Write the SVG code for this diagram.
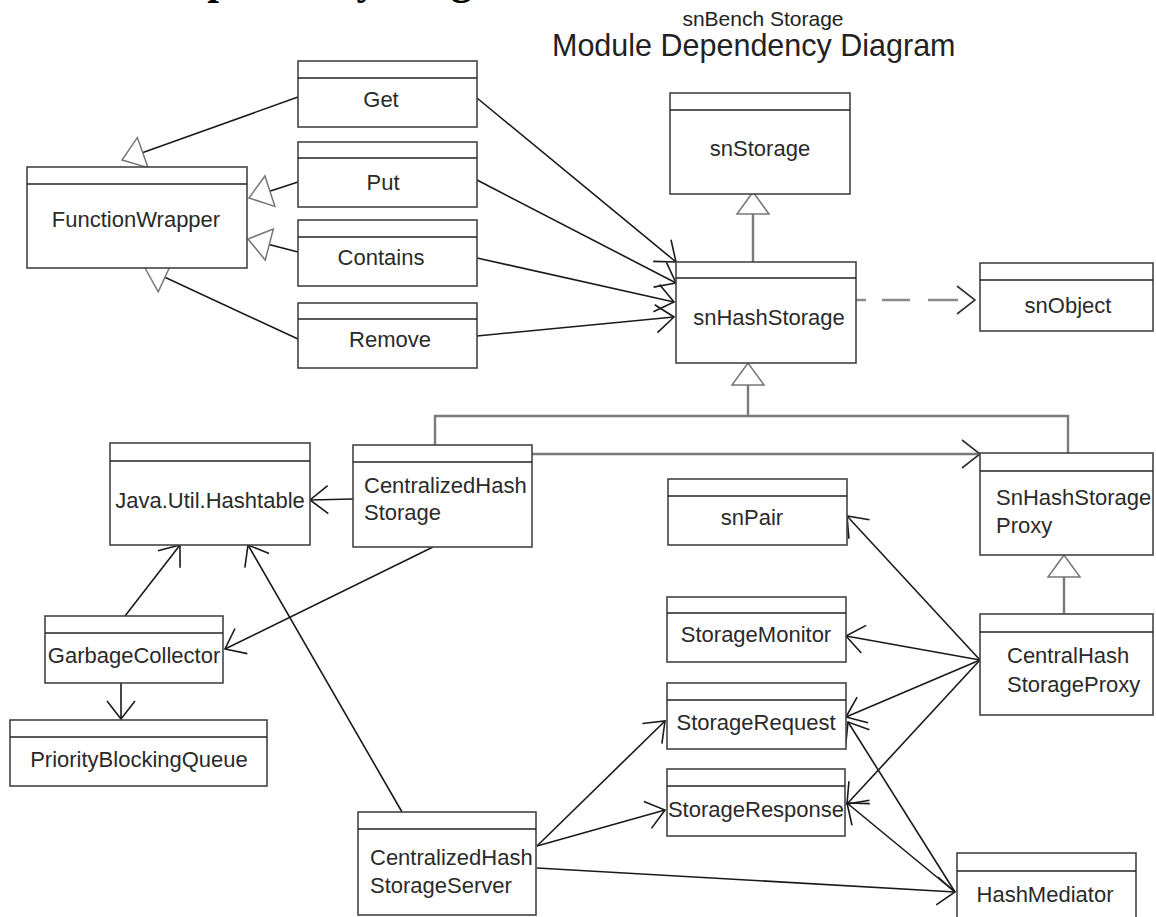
<svg xmlns="http://www.w3.org/2000/svg" width="1156" height="917" viewBox="0 0 1156 917">
<style>
.box{fill:#fff;stroke:#444;stroke-width:1.6}
.div{stroke:#222;stroke-width:1.5}
.t{font-family:"Liberation Sans",Arial,sans-serif;font-size:22px;fill:#2a2a2a}
.c{text-anchor:middle}
.dep{fill:none;stroke:#1a1a1a;stroke-width:1.6;marker-end:url(#arr)}
.gen{fill:none;stroke:#1a1a1a;stroke-width:1.6;marker-end:url(#tri)}
.gry{fill:none;stroke:#7a7a7a;stroke-width:2.4}
</style>
<defs>
<marker id="arr" viewBox="-22 -18 24 36" markerWidth="24" markerHeight="36" refX="0" refY="0" orient="auto" markerUnits="userSpaceOnUse">
<path d="M-18,-14 L0,0 L-18,14" fill="none" stroke="#1a1a1a" stroke-width="1.6"/>
</marker>
<marker id="tri" viewBox="-25 -19 28 38" markerWidth="28" markerHeight="38" refX="0" refY="0" orient="auto" markerUnits="userSpaceOnUse">
<path d="M0,0 L-22,-16 L-22,16 Z" fill="#fff" stroke="#777" stroke-width="1.5"/>
</marker>
</defs>

<text x="10" y="-6" style="font-family:'Liberation Serif','Times New Roman',serif;font-size:42px;font-weight:bold;fill:#000">Module Dependency Diagram</text>
<text x="763" y="26" text-anchor="middle" style="font-family:'Liberation Sans',Arial,sans-serif;font-size:21px;fill:#222">snBench Storage</text>
<text x="552" y="56" style="font-family:'Liberation Sans',Arial,sans-serif;font-size:30.5px;fill:#222">Module Dependency Diagram</text>

<g id="connectors">
<path class="gen" d="M298,97 L122,160"/>
<path class="gen" d="M298,182 L249,198"/>
<path class="gen" d="M298,252 L248,239"/>
<path class="gen" d="M298,339 L145,268"/>
<path class="gry" d="M753,262 V213"/>
<path class="gen" style="stroke:none" d="M753,230 V192"/>
<path class="gry" d="M748,416 V384"/>
<path class="gen" style="stroke:none" d="M748,400 V363"/>
<path class="gry" d="M435,445 V416 H1068 V453"/>
<path class="gry" d="M1064,614 V576"/>
<path class="gen" style="stroke:none" d="M1064,590 V555"/>

<path class="dep" d="M477,98 L676,262"/>
<path class="dep" d="M477,180 L676,283"/>
<path class="dep" d="M477,258 L674,302"/>
<path class="dep" d="M477,336 L674,317"/>
<path d="M856,300 H975" fill="none" stroke="#8a8a8a" stroke-width="2.4" stroke-dasharray="10 16 28 18 30 60"/>
<path d="M957,286 L975,300 L957,314" fill="none" stroke="#333" stroke-width="1.6"/>
<path class="gry" d="M532,454 H978"/>
<path d="M962,440 L980,454 L962,468" fill="none" stroke="#333" stroke-width="1.6"/>
<path class="dep" d="M353,499 L310,500"/>
<path class="dep" d="M433,547 L225,649"/>
<path class="dep" d="M125,616 L180,545"/>
<path class="dep" d="M121,683 L121,719"/>
<path class="dep" d="M402,812 L248,545"/>
<path class="dep" d="M980,660 L847,516"/>
<path class="dep" d="M980,660 L846,636"/>
<path class="dep" d="M980,660 L846,717"/>
<path class="dep" d="M980,660 L847,804"/>
<path class="dep" d="M955,892 L848,722"/>
<path class="dep" d="M955,892 L847,803"/>
<path class="dep" d="M537,846 L665,721"/>
<path class="dep" d="M537,846 L665,810"/>
<path class="dep" d="M537,868 L955,892"/>
</g>

<g id="Get"><rect class="box" x="298" y="61" width="179" height="66"/><line class="div" x1="298" y1="78" x2="477" y2="78"/><text class="t c" x="381" y="107">Get</text></g>
<g id="Put"><rect class="box" x="298" y="142" width="179" height="65"/><line class="div" x1="298" y1="158" x2="477" y2="158"/><text class="t c" x="383" y="190">Put</text></g>
<g id="Contains"><rect class="box" x="298" y="220" width="179" height="66"/><line class="div" x1="298" y1="237" x2="477" y2="237"/><text class="t c" x="381" y="265">Contains</text></g>
<g id="Remove"><rect class="box" x="298" y="303" width="179" height="65"/><line class="div" x1="298" y1="319" x2="477" y2="319"/><text class="t c" x="390" y="347">Remove</text></g>
<g id="FunctionWrapper"><rect class="box" x="27" y="167" width="220" height="101"/><line class="div" x1="27" y1="184" x2="247" y2="184"/><text class="t c" x="136" y="227">FunctionWrapper</text></g>
<g id="snStorage"><rect class="box" x="670" y="93" width="180" height="101"/><line class="div" x1="670" y1="110" x2="850" y2="110"/><text class="t c" x="760" y="156">snStorage</text></g>
<g id="snHashStorage"><rect class="box" x="676" y="262" width="180" height="101"/><line class="div" x1="676" y1="278" x2="856" y2="278"/><text class="t c" x="769" y="325">snHashStorage</text></g>
<g id="snObject"><rect class="box" x="980" y="263" width="173" height="68"/><line class="div" x1="980" y1="280" x2="1153" y2="280"/><text class="t c" x="1068" y="313">snObject</text></g>
<g id="Hashtable"><rect class="box" x="110" y="443" width="200" height="102"/><line class="div" x1="110" y1="461" x2="310" y2="461"/><text class="t c" x="210" y="508">Java.Util.Hashtable</text></g>
<g id="CentralizedHashStorage"><rect class="box" x="353" y="445" width="179" height="102"/><line class="div" x1="353" y1="462" x2="532" y2="462"/><text class="t" x="364" y="493">CentralizedHash</text><text class="t" x="364" y="520">Storage</text></g>
<g id="SnHashStorageProxy"><rect class="box" x="980" y="453" width="173" height="102"/><line class="div" x1="980" y1="471" x2="1153" y2="471"/><text class="t" x="996" y="505">SnHashStorage</text><text class="t" x="996" y="533">Proxy</text></g>
<g id="snPair"><rect class="box" x="668" y="479" width="179" height="66"/><line class="div" x1="668" y1="496" x2="847" y2="496"/><text class="t c" x="752" y="525">snPair</text></g>
<g id="StorageMonitor"><rect class="box" x="667" y="597" width="179" height="65"/><line class="div" x1="667" y1="613" x2="846" y2="613"/><text class="t c" x="756" y="642">StorageMonitor</text></g>
<g id="CentralHashStorageProxy"><rect class="box" x="980" y="614" width="173" height="101"/><line class="div" x1="980" y1="632" x2="1153" y2="632"/><text class="t" x="1007" y="663">CentralHash</text><text class="t" x="1007" y="692">StorageProxy</text></g>
<g id="GarbageCollector"><rect class="box" x="45" y="616" width="178" height="67"/><line class="div" x1="45" y1="633" x2="223" y2="633"/><text class="t c" x="134" y="663">GarbageCollector</text></g>
<g id="StorageRequest"><rect class="box" x="667" y="683" width="179" height="66"/><line class="div" x1="667" y1="700" x2="846" y2="700"/><text class="t c" x="756" y="730">StorageRequest</text></g>
<g id="PriorityBlockingQueue"><rect class="box" x="10" y="720" width="257" height="66"/><line class="div" x1="10" y1="737" x2="267" y2="737"/><text class="t c" x="139" y="767">PriorityBlockingQueue</text></g>
<g id="StorageResponse"><rect class="box" x="667" y="769" width="178" height="67"/><line class="div" x1="667" y1="786" x2="845" y2="786"/><text class="t c" x="756" y="817">StorageResponse</text></g>
<g id="CentralizedHashStorageServer"><rect class="box" x="358" y="812" width="178" height="103"/><line class="div" x1="358" y1="829" x2="536" y2="829"/><text class="t" x="370" y="865">CentralizedHash</text><text class="t" x="370" y="893">StorageServer</text></g>
<g id="HashMediator"><rect class="box" x="957" y="853" width="179" height="66"/><line class="div" x1="957" y1="871" x2="1136" y2="871"/><text class="t c" x="1045" y="902">HashMediator</text></g>
</svg>
